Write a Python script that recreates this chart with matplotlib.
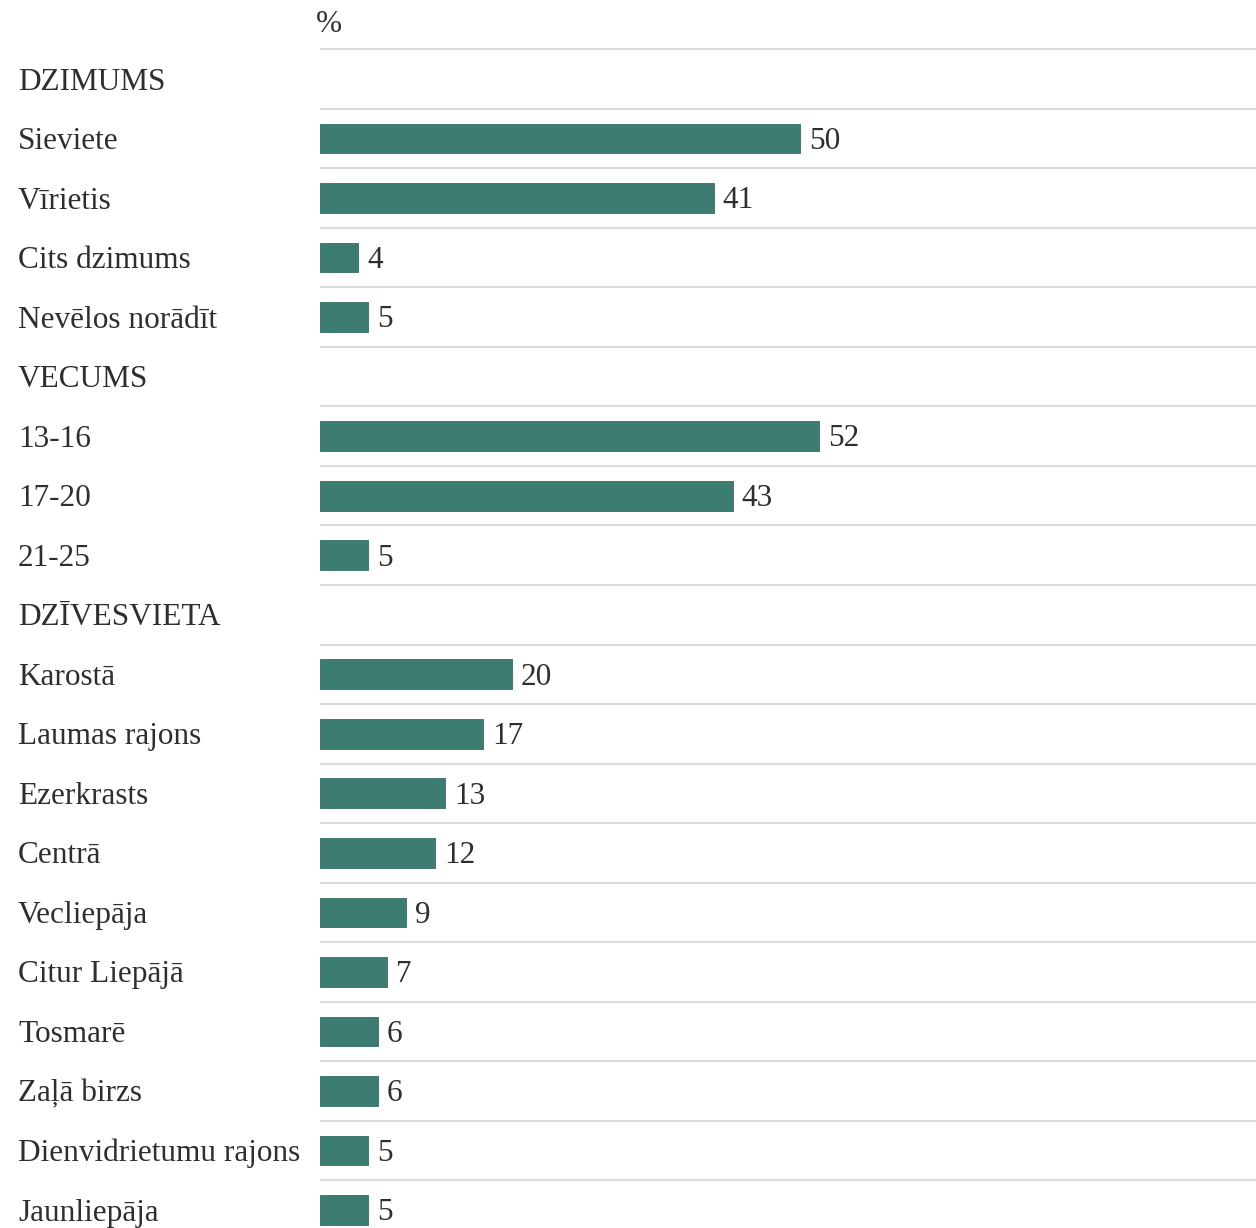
import matplotlib.pyplot as plt

# Survey respondent profile (%)
gender_title = 'DZIMUMS'
gender_labels = ['Sieviete', 'Vīrietis', 'Cits dzimums', 'Nevēlos norādīt']
gender_values = [50, 41, 4, 5]

age_title = 'VECUMS'
age_labels = ['13-16', '17-20', '21-25']
age_values = [52, 43, 5]

place_title = 'DZĪVESVIETA'
place_labels = ['Karostā', 'Laumas rajons', 'Ezerkrasts', 'Centrā', 'Vecliepāja',
                'Citur Liepājā', 'Tosmarē', 'Zaļā birzs', 'Dienvidrietumu rajons',
                'Jaunliepāja']
place_values = [20, 17, 13, 12, 9, 7, 6, 6, 5, 5]

# Build the list of rows: (label, value or None for group headers)
rows = []
for title, labels, values in [(gender_title, gender_labels, gender_values),
                              (age_title, age_labels, age_values),
                              (place_title, place_labels, place_values)]:
    rows.append((title, None))
    rows.extend(zip(labels, values))

plt.rcParams['font.family'] = ['Liberation Serif', 'DejaVu Serif']
text_color = '#2e2e2e'
bar_color = '#3d7d71'
fsize = 22.5

W, H = 1256, 1228
fig = plt.figure(figsize=(W / 100, H / 100), dpi=100)
# bars start at x=320 px, 9.6 px per percent
ax = fig.add_axes([320 / W, 0, 1 - 320 / W, 1])
ax.set_xlim(0, (W - 320) / 9.6)
row_px = 59.53
ax.set_ylim((H - 79) / row_px, -79 / row_px)
ax.axis('off')

for i, (label, value) in enumerate(rows):
    ax.axhline(i - 0.5, color='#dcdcdc', lw=1.5, zorder=0)
    fig_y = 1 - (82 + row_px * i) / H
    fig.text(18 / W, fig_y, label, ha='left', va='center', fontsize=fsize, color=text_color)
    if value is not None:
        ax.barh(i, value, height=0.5, color=bar_color, edgecolor='#356e63', lw=0.6, zorder=2)
        ax.annotate(str(value), xy=(value, i), xytext=(6.5, -2), textcoords='offset points',
                    ha='left', va='center', fontsize=fsize, color=text_color)

fig.text(316 / W, 1 - 25 / H, '%', ha='left', va='center', fontsize=fsize, color=text_color)

fig.savefig('out.png', dpi=100)
